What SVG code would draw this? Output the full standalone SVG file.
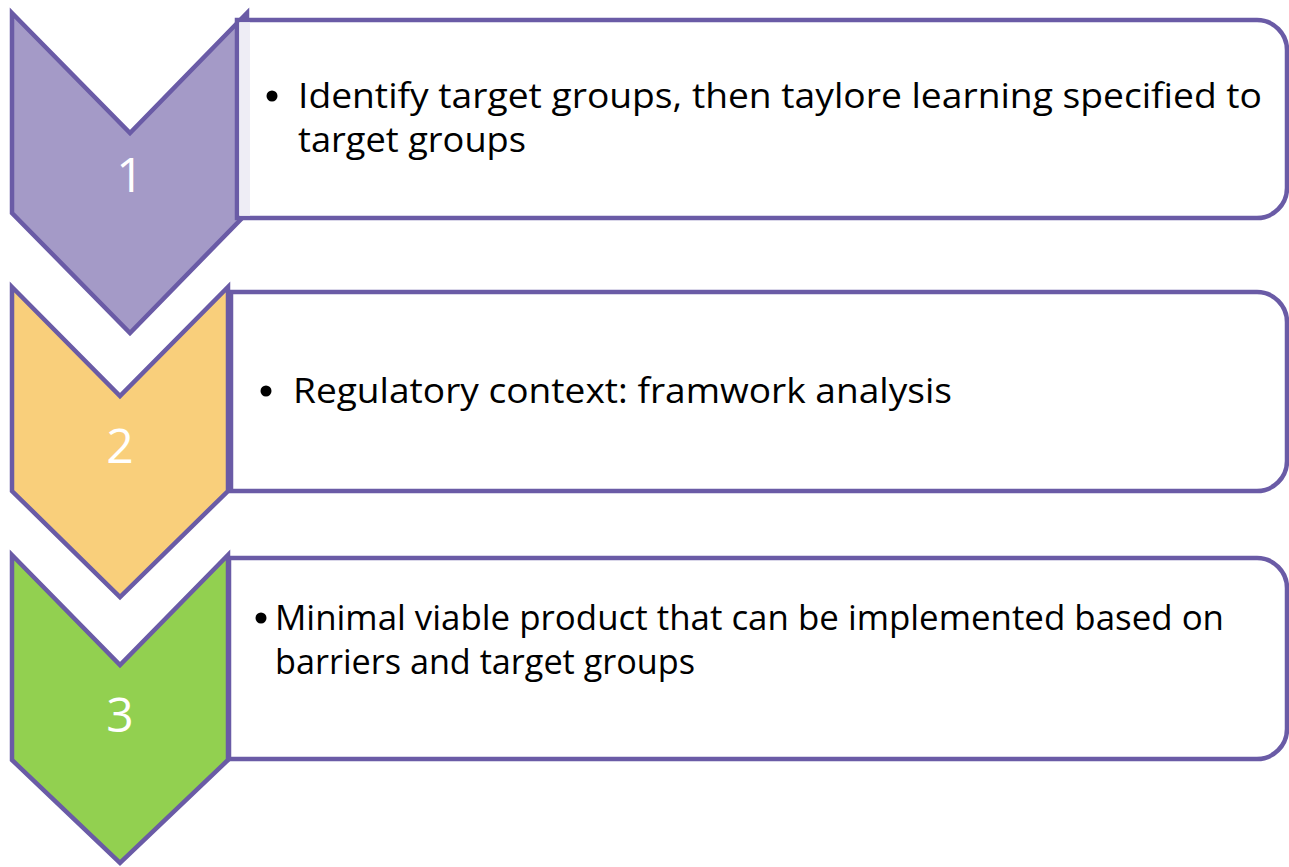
<svg xmlns="http://www.w3.org/2000/svg" width="1289" height="867" viewBox="0 0 1289 867">
<style>
.chev{stroke:#6A5BA6;stroke-width:4.5;stroke-linejoin:miter}
.box{fill:#FFFFFF;stroke:#6A5BA6;stroke-width:4.5}
.num{font-family:"Open Sans","Liberation Sans",sans-serif;font-size:48px;fill:#FFFFFF;text-anchor:middle}
.txt{font-family:"Open Sans","Liberation Sans",sans-serif;font-size:35px;fill:#000000}
</style>
<rect width="1289" height="867" fill="#FFFFFF"/>
<g id="step1">
<polygon class="chev" fill="#A49AC7" points="12,13 130,133 247,13 247,213 130,333 12,213"/>
<path class="box" d="M237,20 H1257 A30,30 0 0 1 1287,50 V188 A30,30 0 0 1 1257,218 H237 Z"/>
<rect x="239.5" y="22.5" width="10.5" height="193" fill="#EEEDF5"/>
<text class="num" x="130" y="192">1</text>
<circle cx="272" cy="96" r="5.5"/>
<text class="txt" x="298" y="108" textLength="964" lengthAdjust="spacingAndGlyphs">Identify target groups, then taylore learning specified to</text>
<text class="txt" x="298" y="152" textLength="228" lengthAdjust="spacingAndGlyphs">target groups</text>
</g>
<g id="step2">
<polygon class="chev" fill="#F9CF7B" points="12,287 120,396 228,287 228,491 120,597 12,491"/>
<path class="box" d="M231,292 H1257 A30,30 0 0 1 1287,322 V461 A30,30 0 0 1 1257,491 H231 Z"/>
<text class="num" x="120" y="463">2</text>
<circle cx="266" cy="391" r="5.5"/>
<text class="txt" x="293" y="403" textLength="659" lengthAdjust="spacingAndGlyphs">Regulatory context: framwork analysis</text>
</g>
<g id="step3">
<polygon class="chev" fill="#92D050" points="12,555 120,665 228,555 228,760 120,863 12,760"/>
<path class="box" d="M229,558 H1257 A30,30 0 0 1 1287,588 V729 A30,30 0 0 1 1257,759 H229 Z"/>
<text class="num" x="120" y="732">3</text>
<circle cx="261" cy="618" r="5.5"/>
<text class="txt" x="275" y="630" textLength="949" lengthAdjust="spacingAndGlyphs">Minimal viable product that can be implemented based on</text>
<text class="txt" x="275" y="674" textLength="420" lengthAdjust="spacingAndGlyphs">barriers and target groups</text>
</g>
<g id="connectors"></g>
</svg>
